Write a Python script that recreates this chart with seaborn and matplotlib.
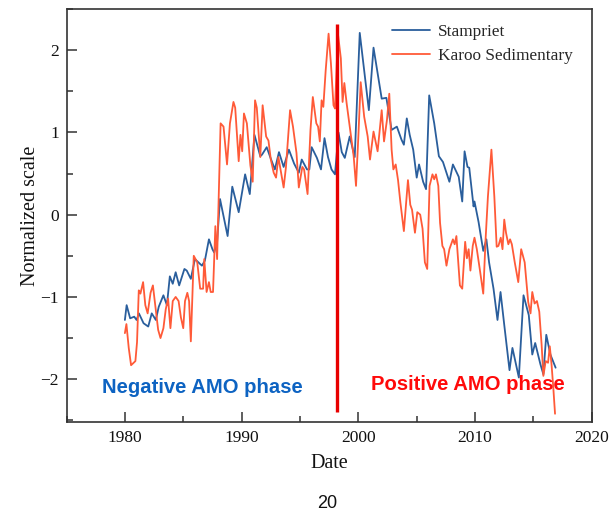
import matplotlib
matplotlib.use("Agg")
import matplotlib.pyplot as plt
from matplotlib.ticker import MultipleLocator
import seaborn as sns
import pandas as pd

# Stampriet aquifer series (normalized)
stampriet_years = [
    1980.0, 1980.15, 1980.45, 1980.8, 1981.0, 1981.2, 1981.6, 1982.0, 1982.3, 1982.65,
    1982.9, 1983.3, 1983.6, 1983.85, 1984.1, 1984.35, 1984.65, 1985.1, 1985.3, 1985.65,
    1986.0, 1986.6, 1986.85, 1987.2, 1987.5, 1987.65, 1987.9, 1988.15, 1988.8, 1989.2,
    1989.75, 1990.3, 1990.7, 1991.1, 1991.6, 1991.75, 1992.15, 1992.5, 1992.85, 1993.2,
    1993.6, 1994.05, 1994.5, 1994.9, 1995.15, 1995.6, 1995.8, 1996.0, 1996.45, 1996.8,
    1997.1, 1997.4, 1997.7, 1998.0, 1998.3, 1998.58, 1998.84, 1999.26, 1999.69, 2000.12,
    2000.9, 2001.3, 2002.0, 2002.4, 2002.85, 2003.3, 2003.7, 2003.9, 2004.15, 2004.4,
    2004.7, 2005.0, 2005.2, 2005.55, 2005.8, 2006.07, 2006.5, 2006.9, 2007.25, 2007.8,
    2008.1, 2008.6, 2008.9, 2009.1, 2009.35, 2009.5, 2009.87, 2009.95, 2010.3, 2010.7,
    2010.97, 2011.2, 2011.58, 2011.92, 2012.18, 2012.5, 2012.95, 2013.2, 2013.75, 2014.15,
    2014.6, 2014.9, 2015.15, 2015.6, 2015.85, 2016.1, 2016.45, 2016.9,
]
stampriet_values = [
    -1.28, -1.10, -1.26, -1.24, -1.28, -1.20, -1.32, -1.36, -1.20, -1.28,
    -1.12, -0.98, -1.10, -0.75, -0.84, -0.70, -0.86, -0.66, -0.68, -0.78,
    -0.54, -0.62, -0.56, -0.30, -0.42, -0.46, -0.33, 0.19, -0.26, 0.34,
    0.03, 0.49, 0.25, 0.97, 0.71, 0.73, 0.82, 0.68, 0.55, 0.76,
    0.58, 0.79, 0.62, 0.51, 0.67, 0.55, 0.55, 0.82, 0.69, 0.55,
    0.93, 0.70, 0.55, 0.49, 1.00, 0.76, 0.69, 0.95, 0.70, 2.21,
    1.27, 2.03, 1.41, 1.42, 1.03, 1.07, 0.91, 0.85, 1.17, 0.97,
    0.79, 0.45, 0.61, 0.40, 0.31, 1.45, 1.11, 0.71, 0.64, 0.40,
    0.61, 0.46, 0.16, 0.77, 0.58, 0.57, 0.10, 0.16, -0.09, -0.44,
    -0.30, -0.58, -0.90, -1.28, -0.94, -1.34, -1.89, -1.62, -1.98, -0.98,
    -1.22, -1.70, -1.56, -1.82, -1.94, -1.46, -1.70, -1.86,
]

# Karoo Sedimentary aquifer series (normalized)
karoo_years = [
    1980.0, 1980.13, 1980.33, 1980.53, 1980.9, 1981.04, 1981.19, 1981.33, 1981.56, 1981.75,
    1981.95, 1982.2, 1982.4, 1982.6, 1982.85, 1983.05, 1983.3, 1983.5, 1983.7, 1983.9,
    1984.1, 1984.35, 1984.6, 1984.8, 1985.0, 1985.15, 1985.35, 1985.5, 1985.65, 1985.9,
    1986.2, 1986.45, 1986.7, 1986.8, 1987.0, 1987.2, 1987.35, 1987.55, 1987.75, 1987.9,
    1988.2, 1988.45, 1988.75, 1989.0, 1989.3, 1989.45, 1989.75, 1989.9, 1990.05, 1990.2,
    1990.45, 1990.75, 1990.95, 1991.15, 1991.3, 1991.6, 1991.8, 1992.1, 1992.3, 1992.5,
    1992.75, 1992.95, 1993.15, 1993.6, 1993.8, 1994.15, 1994.4, 1994.7, 1994.9, 1995.2,
    1995.35, 1995.65, 1995.9, 1996.1, 1996.4, 1996.55, 1996.7, 1996.85, 1997.0, 1997.2,
    1997.45, 1997.65, 1997.87, 1998.0, 1998.25, 1998.5, 1998.65, 1998.8, 1999.0, 1999.3,
    1999.6, 1999.8, 2000.0, 2000.2, 2000.5, 2000.8, 2001.0, 2001.3, 2001.5, 2001.65,
    2002.0, 2002.2, 2002.45, 2002.65, 2002.85, 2003.0, 2003.2, 2003.4, 2003.6, 2003.9,
    2004.25, 2004.45, 2004.6, 2004.85, 2005.05, 2005.3, 2005.5, 2005.7, 2005.9, 2006.1,
    2006.35, 2006.5, 2006.65, 2006.85, 2007.0, 2007.2, 2007.35, 2007.55, 2007.8, 2008.1,
    2008.25, 2008.4, 2008.7, 2008.9, 2009.15, 2009.3, 2009.45, 2009.6, 2009.8, 2009.95,
    2010.15, 2010.4, 2010.7, 2010.9, 2011.1, 2011.4, 2011.65, 2011.85, 2012.0, 2012.2,
    2012.35, 2012.5, 2012.65, 2012.85, 2013.0, 2013.15, 2013.4, 2013.7, 2013.95, 2014.25,
    2014.55, 2014.75, 2014.9, 2015.1, 2015.3, 2015.5, 2015.7, 2015.85, 2016.05, 2016.25,
    2016.4, 2016.55, 2016.7, 2016.85,
]
karoo_values = [
    -1.44, -1.33, -1.62, -1.83, -1.78, -1.55, -0.92, -0.96, -0.82, -1.10,
    -1.20, -0.95, -0.86, -1.10, -1.40, -1.50, -1.38, -1.15, -1.02, -1.38,
    -1.05, -1.00, -1.05, -1.25, -1.38, -1.05, -0.95, -1.05, -1.54, -0.50,
    -0.58, -0.90, -0.90, -0.54, -0.94, -0.82, -0.94, -0.94, -0.14, -0.54,
    1.11, 1.07, 0.61, 1.11, 1.37, 1.30, 0.65, 0.97, 0.77, 1.23,
    1.11, 0.60, 0.40, 1.39, 1.30, 0.70, 1.33, 0.95, 0.90, 0.67,
    0.51, 0.45, 0.70, 0.33, 0.58, 1.27, 1.07, 0.75, 0.33, 0.58,
    0.55, 0.25, 1.03, 1.43, 1.11, 1.07, 0.89, 1.39, 1.31, 1.75,
    2.20, 1.84, 1.33, 1.29, 2.20, 1.90, 1.37, 1.60, 1.35, 1.03,
    0.71, 0.35, 0.95, 1.61, 1.19, 0.95, 0.67, 1.01, 0.87, 0.77,
    1.27, 0.89, 1.15, 1.47, 0.79, 0.55, 0.61, 0.42, 0.15, -0.20,
    0.42, 0.12, 0.06, -0.22, 0.03, 0.00, -0.17, -0.58, -0.66, 0.35,
    0.49, 0.43, 0.49, 0.35, -0.10, -0.38, -0.42, -0.62, -0.42, -0.30,
    -0.36, -0.26, -0.86, -0.90, -0.33, -0.53, -0.42, -0.68, -0.38, -0.28,
    -0.42, -0.66, -0.96, -0.30, 0.22, 0.79, 0.22, -0.39, -0.38, -0.28,
    -0.42, -0.06, -0.22, -0.36, -0.30, -0.36, -0.58, -0.82, -0.42, -0.58,
    -1.06, -1.20, -0.94, -1.08, -1.05, -1.18, -1.58, -1.96, -1.78, -1.80,
    -1.60, -1.82, -2.10, -2.42,
]

# Year separating the two AMO phases
phase_change_year = 1998.2
phase_line_span = [-2.4, 2.32]

x_ticks = [1980, 1990, 2000, 2010, 2020]
y_ticks = [-2, -1, 0, 1, 2]

stampriet = pd.DataFrame({"Date": stampriet_years, "Normalized scale": stampriet_values})
karoo = pd.DataFrame({"Date": karoo_years, "Normalized scale": karoo_values})

sns.set_theme(style="ticks")
plt.rcParams["font.family"] = ["Liberation Serif", "DejaVu Serif"]
plt.rcParams["axes.unicode_minus"] = True

fig = plt.figure(figsize=(6.12, 5.16), dpi=100)
ax = fig.add_axes([0.1087, 0.1822, 0.967 - 0.1087, 0.9826 - 0.1822])

sns.lineplot(data=stampriet, x="Date", y="Normalized scale", ax=ax,
             color="#2a5e9c", lw=1.3, estimator=None, label="Stampriet")
sns.lineplot(data=karoo, x="Date", y="Normalized scale", ax=ax,
             color="#ff5a38", lw=1.3, estimator=None, label="Karoo Sedimentary")

ax.vlines(phase_change_year, phase_line_span[0], phase_line_span[1],
          color="#e80000", lw=2.4, zorder=5)

ax.set_xlim(1975, 2020)
ax.set_ylim(-2.52, 2.5)
ax.set_xticks(x_ticks)
ax.set_yticks(y_ticks)
ax.xaxis.set_minor_locator(MultipleLocator(5))
ax.yaxis.set_minor_locator(MultipleLocator(0.5))
ax.tick_params(which="major", direction="in", length=7, width=1.1,
               color="#333333", labelsize=12.5, pad=5.5, labelcolor="#111111")
ax.tick_params(which="minor", direction="in", length=4, width=1.1, color="#333333")
for side in ax.spines.values():
    side.set_color("#333333")
    side.set_linewidth(1.2)

ax.set_xlabel("Date", fontsize=14.5, labelpad=6, color="#111111")
ax.set_ylabel("Normalized scale", fontsize=14.5, labelpad=0.5, color="#111111")

ax.text(1986.65, -2.1, "Negative AMO phase", color="#0d63c2", fontsize=14.6,
        fontweight="bold", family=["Liberation Sans", "DejaVu Sans"],
        ha="center", va="center")
ax.text(2009.35, -2.07, "Positive AMO phase", color="#ff0a0a", fontsize=14.6,
        fontweight="bold", family=["Liberation Sans", "DejaVu Sans"],
        ha="center", va="center")

ax.legend(loc="upper left", bbox_to_anchor=(0.619, 0.964), frameon=False,
          fontsize=12.4, handlelength=2.2, handletextpad=0.5, labelspacing=0.45,
          borderaxespad=0, borderpad=0)

fig.text(0.534, 1 - 503 / 516, "20", ha="center", va="center", fontsize=13,
         family=["Liberation Sans", "DejaVu Sans"], color="#111111")

fig.savefig("out.png", dpi=100)
